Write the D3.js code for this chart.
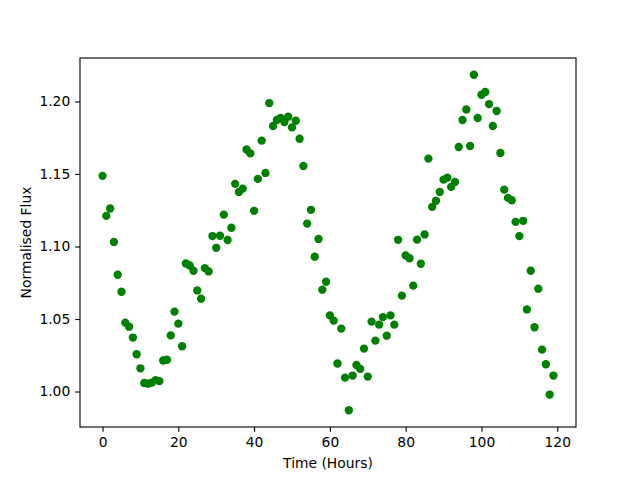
<!DOCTYPE html>
<html>
<head>
<meta charset="utf-8">
<script src="https://cdn.jsdelivr.net/npm/d3@7"></script>
<style>
  html, body { margin: 0; padding: 0; background: #fff; }
  svg { display: block; }
  text { font-family: "DejaVu Sans", sans-serif; fill: #000; }
</style>
</head>
<body>
<svg id="chart" width="640" height="480"></svg>
<script>
// Time in hours (0..119)
const times = d3.range(0, 120);
// Normalised flux values
const flux = [
  1.1487, 1.1211, 1.1262, 1.1031, 1.0805, 1.0688, 1.0475, 1.0447, 1.0372, 1.0257,
  1.0160, 1.0059, 1.0054, 1.0061, 1.0078, 1.0072, 1.0214, 1.0219, 1.0387, 1.0551,
  1.0468, 1.0312, 1.0883, 1.0869, 1.0833, 1.0697, 1.0640, 1.0851, 1.0828, 1.1072,
  1.0991, 1.1074, 1.1220, 1.1045, 1.1129, 1.1432, 1.1376, 1.1399, 1.1669, 1.1642,
  1.1246, 1.1466, 1.1730, 1.1507, 1.1989, 1.1831, 1.1872, 1.1886, 1.1858, 1.1895,
  1.1821, 1.1867, 1.1743, 1.1555, 1.1158, 1.1253, 1.0929, 1.1052, 1.0702, 1.0757,
  1.0525, 1.0489, 1.0193, 1.0434, 1.0096, 0.9871, 1.0110, 1.0183, 1.0156, 1.0296,
  1.0103, 1.0482, 1.0351, 1.0461, 1.0513, 1.0385, 1.0525, 1.0461, 1.1046, 1.0661,
  1.0938, 1.0919, 1.0730, 1.1047, 1.0881, 1.1083, 1.1606, 1.1273, 1.1315, 1.1376,
  1.1461, 1.1475, 1.1411, 1.1445, 1.1686, 1.1872, 1.1945, 1.1693, 1.2184, 1.1886,
  1.2046, 1.2065, 1.1982, 1.1831, 1.1934, 1.1645, 1.1392, 1.1335, 1.1319, 1.1170,
  1.1072, 1.1177, 1.0566, 1.0833, 1.0443, 1.0709, 1.0289, 1.0188, 0.9979, 1.0110
];
const xTicks = [0, 20, 40, 60, 80, 100, 120];
const yTicks = [1.00, 1.05, 1.10, 1.15, 1.20];
const xLabel = "Time (Hours)";
const yLabel = "Normalised Flux";

const svg = d3.select("#chart");
const L = 80, R = 576, T = 58, B = 427;
const pt = 100 / 72;

const xExt = d3.extent(times), yExt = d3.extent(flux);
const xm = (xExt[1] - xExt[0]) * 0.05, ym = (yExt[1] - yExt[0]) * 0.05;
const x = d3.scaleLinear().domain([xExt[0] - xm, xExt[1] + xm]).range([L, R]);
const y = d3.scaleLinear().domain([yExt[0] - ym, yExt[1] + ym]).range([B, T]);

const tickLen = 3.5 * pt, tickPad = 3.5 * pt, fs = 10 * pt;

// points
svg.append("g").selectAll("circle")
  .data(times.map((t, i) => [t, flux[i]]))
  .join("circle")
  .attr("cx", d => x(d[0]))
  .attr("cy", d => y(d[1]))
  .attr("r", 3 * pt)
  .attr("fill", "#008000");

// axes
const xAxis = svg.append("g").attr("transform", `translate(0,${B})`)
  .call(d3.axisBottom(x).tickValues(xTicks).tickFormat(d3.format("d"))
    .tickSize(tickLen).tickPadding(tickPad).tickSizeOuter(0));
const yAxis = svg.append("g").attr("transform", `translate(${L},0)`)
  .call(d3.axisLeft(y).tickValues(yTicks).tickFormat(d3.format(".2f"))
    .tickSize(tickLen).tickPadding(tickPad).tickSizeOuter(0));
[xAxis, yAxis].forEach(g => {
  g.select(".domain").remove();
  g.selectAll(".tick line").attr("stroke", "#000").attr("stroke-width", 0.8 * pt);
  g.selectAll(".tick text").attr("font-size", fs).attr("font-family", "DejaVu Sans").attr("fill", "#000");
});
xAxis.selectAll(".tick text").attr("dy", "0.76em");

// spines
svg.append("rect")
  .attr("x", L).attr("y", T).attr("width", R - L).attr("height", B - T)
  .attr("fill", "none").attr("stroke", "#000").attr("stroke-width", 0.8 * pt);

// axis labels
svg.append("text")
  .attr("x", (L + R) / 2).attr("y", 468)
  .attr("text-anchor", "middle").attr("font-size", fs)
  .text(xLabel);
svg.append("text")
  .attr("transform", `translate(30.5,${(T + B) / 2}) rotate(-90)`)
  .attr("text-anchor", "middle").attr("font-size", fs)
  .text(yLabel);
</script>
</body>
</html>
